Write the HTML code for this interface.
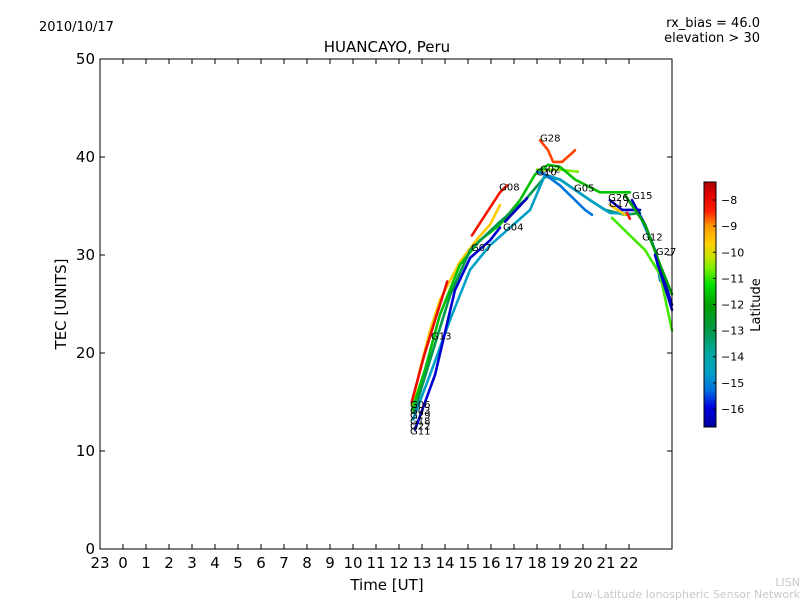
<!DOCTYPE html>
<html><head><meta charset="utf-8"><style>
body{margin:0;background:#fff;}
svg{display:block;font-family:"DejaVu Sans","Liberation Sans",sans-serif;}
</style></head><body>
<svg id="chart" width="800" height="600" viewBox="0 0 800 600">
<defs>
<linearGradient id="cbg" x1="0" y1="1" x2="0" y2="0">
<stop offset="0" stop-color="#0000a0"/><stop offset="0.08" stop-color="#0000e0"/><stop offset="0.15" stop-color="#0070e0"/><stop offset="0.22" stop-color="#00a0c8"/><stop offset="0.3" stop-color="#00a8a0"/><stop offset="0.4" stop-color="#009944"/><stop offset="0.5" stop-color="#00a000"/><stop offset="0.58" stop-color="#00e000"/><stop offset="0.65" stop-color="#80f000"/><stop offset="0.7" stop-color="#d0e000"/><stop offset="0.75" stop-color="#ffd000"/><stop offset="0.82" stop-color="#ff9900"/><stop offset="0.88" stop-color="#ff2000"/><stop offset="0.95" stop-color="#e00000"/><stop offset="1" stop-color="#b00000"/>
</linearGradient>
</defs>
<rect width="800" height="600" fill="#fff"/>
<text x="39" y="31" font-size="13">2010/10/17</text>
<text x="387" y="52" font-size="15" text-anchor="middle">HUANCAYO, Peru</text>
<text x="760" y="27" font-size="13" text-anchor="end">rx_bias = 46.0</text>
<text x="760" y="42" font-size="13" text-anchor="end">elevation &gt; 30</text>
<g id="tracks"></g>
<g id="labels"></g>
<rect x="100" y="59" width="572" height="490" fill="none" stroke="#000" stroke-width="1"/>
<g id="xaxis"></g>
<g id="yaxis"></g>
<text x="387" y="590" font-size="15" text-anchor="middle">Time [UT]</text>
<text x="66" y="304" font-size="15" text-anchor="middle" transform="rotate(-90 66 304)">TEC [UNITS]</text>
<rect x="704" y="182" width="12" height="245" fill="url(#cbg)" stroke="#000" stroke-width="1"/>
<g id="cbticks"></g>
<text x="760" y="305" font-size="13" text-anchor="middle" transform="rotate(-90 760 305)">Latitude</text>
<text x="800" y="586" font-size="11" fill="#c8c8c8" text-anchor="end">LISN</text>
<text x="800" y="598" font-size="11" fill="#c8c8c8" text-anchor="end">Low-Latitude Ionospheric Sensor Network</text>
</svg>
<script>
const xTickHours = [-1,0,1,2,3,4,5,6,7,8,9,10,11,12,13,14,15,16,17,18,19,20,21,22];
const xTickLabels = ["23","0","1","2","3","4","5","6","7","8","9","10","11","12","13","14","15","16","17","18","19","20","21","22"];
const yTicks = [0,10,20,30,40,50];
const cbTicks = [-8,-9,-10,-11,-12,-13,-14,-15,-16];
// each track: [hours], [tec], latitude
const trackHours = [
 [15.17,16.39,16.7],
 [18.13,18.48,18.7,19.09,19.57,19.65],
 [18.0,19.0,19.78],
 [12.57,12.91,13.35,13.78,14.65,15.43,15.96,16.39],
 [12.57,13.13,13.78,14.65,15.52,16.39,17.26,17.91,18.48,19.0,19.65,20.74,22.04],
 [12.65,13.35,14.22,15.09,16.39,17.48,18.35,19.0,20.3,20.96,21.83,22.48],
 [12.61,13.35,14.22,15.09,15.96,16.83,17.7,18.35,19.0,20.3,21.17,22.04],
 [12.7,13.57,14.43,15.09,15.96,16.39],
 [16.61,17.57],
 [18.0,18.35,19.0,20.09,20.39],
 [21.17,21.7,22.48],
 [22.13,22.7,23.13,23.87],
 [22.48,23.13,23.35],
 [21.26,22.04,22.7,23.35,23.87],
 [21.83,22.7,23.35,23.87],
 [23.13,23.87],
 [21.17,21.83],
 [21.91,22.04],
 [12.55,13.1,13.6,14.1]
];
const trackTec = [
 [32.0,36.4,37.1],
 [41.7,40.7,39.5,39.5,40.5,40.7],
 [38.7,38.7,38.5],
 [14.7,18.3,22.3,25.4,29.3,31.7,33.1,35.1],
 [14.2,18.3,23.9,29.0,31.5,33.1,35.6,38.2,39.2,39.0,37.7,36.4,36.4],
 [13.9,19.3,25.9,30.5,33.4,35.6,38.0,37.7,35.6,34.6,34.1,34.3],
 [13.2,17.8,23.4,28.5,31.0,32.8,34.6,38.2,37.7,35.6,34.3,34.2],
 [12.2,17.8,26.4,29.7,31.5,32.8],
 [33.4,35.8],
 [38.5,38.2,37.1,34.6,34.1],
 [35.6,34.6,34.6],
 [35.6,33.1,30.5,24.9],
 [34.0,30.5,27.4],
 [33.8,32.0,30.5,28.0,22.3],
 [36.1,33.1,29.0,26.0],
 [30.0,24.4],
 [35.1,34.1],
 [34.3,33.7],
 [15.0,19.8,23.6,27.3]
];
const trackLat = [-8.2,-8.6,-10.6,-9.6,-11.6,-13.0,-14.6,-16.1,-16.4,-15.2,-16.3,-16.4,-15.0,-10.9,-12.0,-16.2,-9.6,-8.2,-8];
const satNames = ["G08","G28","G02","G13","G10","G05","G26","G15","G17","G04","G07","G12","G27","G03","G29","G18","G22","G11","G06"];
const labelHours = [16.35,18.13,18.13,13.39,17.97,19.61,21.09,22.13,21.13,16.52,15.13,22.57,23.17,12.48,12.48,12.48,12.48,12.48,12.48];
const labelTec = [36.6,41.6,38.4,21.4,38.1,36.5,35.5,35.7,34.9,32.5,30.4,31.5,30.0,13.8,13.3,12.7,12.2,11.7,14.4];

const X0=100,X1=672,Y0=549,Y1=59,HMIN=-1,HMAX=-1+572/23,TMIN=0,TMAX=50;
function xs(h){return X0+(h-HMIN)/(HMAX-HMIN)*(X1-X0);}
function ys(t){return Y0-(t-TMIN)/(TMAX-TMIN)*(Y0-Y1);}
const LMIN=-16.69,LMAX=-7.31;
function cbY(l){return 427-(l-LMIN)/(LMAX-LMIN)*245;}
const stops=[[0,[0,0,160]],[0.08,[0,0,224]],[0.15,[0,112,224]],[0.22,[0,160,200]],[0.3,[0,168,160]],[0.4,[0,153,68]],[0.5,[0,160,0]],[0.58,[0,224,0]],[0.65,[128,240,0]],[0.7,[208,224,0]],[0.75,[255,208,0]],[0.82,[255,153,0]],[0.88,[255,32,0]],[0.95,[224,0,0]],[1,[176,0,0]]];
function cmap(l){let t=(l-LMIN)/(LMAX-LMIN);t=Math.max(0,Math.min(1,t));
 for(let i=1;i<stops.length;i++){if(t<=stops[i][0]){const a=stops[i-1],b=stops[i];const f=(t-a[0])/(b[0]-a[0]);
 const c=a[1].map((v,k)=>Math.round(v+(b[1][k]-v)*f));return 'rgb('+c.join(',')+')';}}return 'rgb(176,0,0)';}
const NS='http://www.w3.org/2000/svg';
function mk(tag,attrs,parent){const e=document.createElementNS(NS,tag);for(const k in attrs)e.setAttribute(k,attrs[k]);parent.appendChild(e);return e;}
const tg=document.getElementById('tracks');
trackHours.forEach((hs,i)=>{
 const pts=hs.map((h,j)=>xs(h).toFixed(1)+','+ys(trackTec[i][j]).toFixed(1)).join(' ');
 const p=mk('polyline',{points:pts,fill:'none',stroke:cmap(trackLat[i]),'stroke-width':2.6,'stroke-linejoin':'round','stroke-linecap':'round'},tg);
 
 
});
const lg=document.getElementById('labels');
satNames.forEach((n,i)=>{
 const t=mk('text',{x:xs(labelHours[i]).toFixed(1),y:ys(labelTec[i]).toFixed(1),'font-size':10},lg);
 t.textContent=n;
 
 
});
const xg=document.getElementById('xaxis');
xTickHours.forEach((h,i)=>{
 const x=xs(h);
 const a=mk('line',{x1:x,x2:x,y1:Y0,y2:Y0-5,stroke:'#000'},xg);
 
 
 const b=mk('line',{x1:x,x2:x,y1:Y1,y2:Y1+5,stroke:'#000'},xg);
 
 
 const t=mk('text',{x:x,y:568,'font-size':15,'text-anchor':'middle'},xg);
 t.textContent=xTickLabels[i];
 
 
});
const yg=document.getElementById('yaxis');
yTicks.forEach(v=>{
 const y=ys(v);
 const a=mk('line',{x1:X0,x2:X0+5,y1:y,y2:y,stroke:'#000'},yg);
 
 
 const b=mk('line',{x1:X1,x2:X1-5,y1:y,y2:y,stroke:'#000'},yg);
 
 
 const t=mk('text',{x:95,y:y+5,'font-size':15,'text-anchor':'end'},yg);
 t.textContent=String(v);
 
 
});
const cg=document.getElementById('cbticks');
cbTicks.forEach(v=>{
 const y=cbY(v);
 const a=mk('line',{x1:716,x2:713,y1:y,y2:y,stroke:'#000'},cg);
 
 
 const t=mk('text',{x:721,y:y+4,'font-size':11},cg);
 t.textContent='\u2212'+Math.abs(v);
 
 
});
</script>
</body></html>
